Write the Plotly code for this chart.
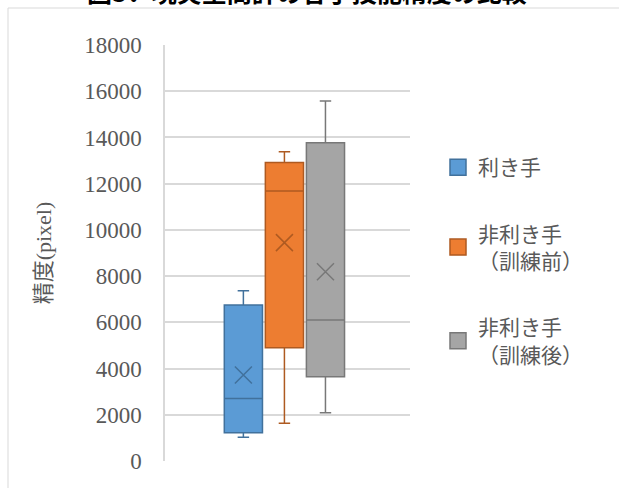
import plotly.graph_objects as go

names = ["利き手", "非利き手<br>（訓練前）", "非利き手<br>（訓練後）"]
q1 = [1225, 4900, 3650]
median = [2700, 11680, 6100]
q3 = [6750, 12920, 13770]
lower = [1025, 1630, 2090]
upper = [7370, 13380, 15580]
means = [3720, 9450, 8190]
fills = ["#5b9bd5", "#ed7d31", "#a5a5a5"]
lines = ["#41719c", "#ae5a21", "#787878"]

fig = go.Figure()
for i, n in enumerate(names):
    fig.add_trace(go.Box(
        x=[n], q1=[q1[i]], median=[median[i]], q3=[q3[i]],
        lowerfence=[lower[i]], upperfence=[upper[i]],
        name=n, fillcolor=fills[i], line=dict(color=lines[i], width=1.5),
        whiskerwidth=0.3, boxpoints=False, width=0.93,
        showlegend=False, opacity=1,
    ))
for i, n in enumerate(names):
    fig.add_trace(go.Scatter(
        x=[n], y=[means[i]], mode="markers", showlegend=False,
        marker=dict(symbol="x-thin-open", size=17, color=lines[i],
                    line=dict(color=lines[i], width=1.5)),
        hoverinfo="skip",
    ))
# legend entries
for i, n in enumerate(names):
    fig.add_trace(go.Scatter(
        x=[None], y=[None], mode="markers", name=n, legendgroup=str(i),
        marker=dict(symbol="square", size=16, color=fills[i],
                    line=dict(color=lines[i], width=1.5)),
    ))

W, H = 619, 488
L, R, T, B = 165, 410, 45, 461
fig.update_layout(
    width=W, height=H,
    margin=dict(l=L, r=W - R, t=T, b=H - B),
    paper_bgcolor="white", plot_bgcolor="white",
    font=dict(family="Liberation Serif, Noto Sans CJK JP", color="#595959"),
    legend=dict(x=(438 - L) / (R - L), xanchor="left", y=(B - 147) / (B - T), yanchor="top",
                font=dict(family="Noto Sans CJK JP", size=21, color="#595959"),
                traceorder="grouped", tracegroupgap=36, valign="middle",
                itemwidth=30, itemsizing="trace"),
    showlegend=True,
    annotations=[dict(text="<b>図3．現実空間計の各手技能精度の比較</b>",
                      xref="paper", yref="paper", x=(307 - L) / (R - L), xanchor="center",
                      y=(B + 9) / (B - T), yanchor="middle", showarrow=False,
                      font=dict(family="Noto Sans CJK JP", size=25, color="#000000"))],
    shapes=[dict(type="rect", xref="paper", yref="paper",
                 x0=(8 - L) / (R - L), x1=(640 - L) / (R - L),
                 y0=(B - 520) / (B - T), y1=(B - 8) / (B - T),
                 line=dict(color="#d9d9d9", width=1), fillcolor="rgba(0,0,0,0)",
                 layer="below")],
)
fig.update_xaxes(categoryorder="array", categoryarray=names,
                 range=[-1.91, 4.06], showticklabels=False, showgrid=False,
                 zeroline=False, showline=False)
fig.update_yaxes(range=[0, 18000], dtick=2000, showgrid=True, gridcolor="#d9d9d9",
                 gridwidth=1.5, zeroline=False, showline=True, linecolor="#d9d9d9",
                 linewidth=1.5, tickformat="d",
                 tickfont=dict(family="Liberation Serif", size=23, color="#595959"),
                 ticklabelstandoff=17,
                 title=dict(text="精度(pixel)", standoff=26,
                            font=dict(family="Liberation Serif, Noto Sans CJK JP", size=22, color="#595959")))

fig.write_html("out.html")
